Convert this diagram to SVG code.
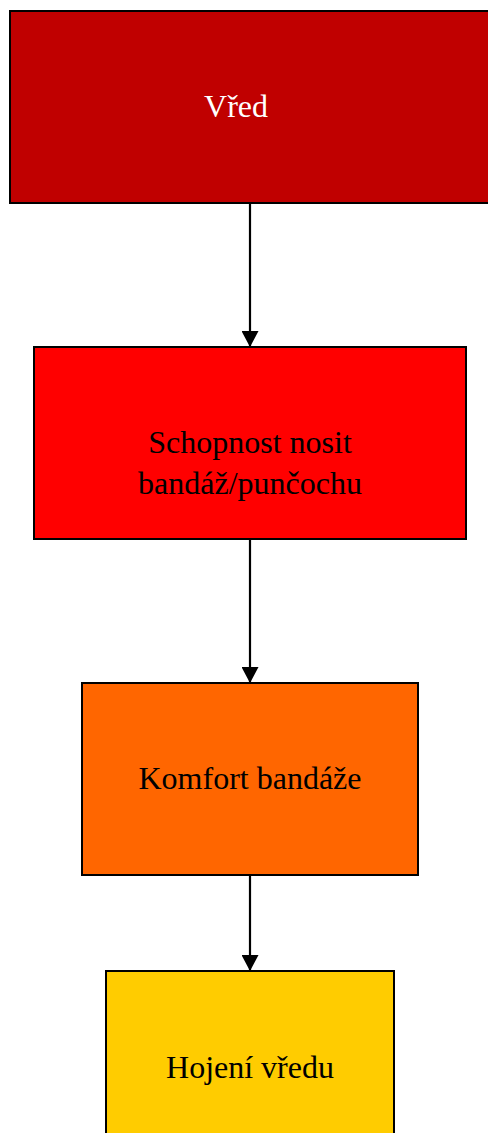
<svg xmlns="http://www.w3.org/2000/svg" width="488" height="1133" viewBox="0 0 488 1133">
  <style>
    .box { stroke: #000; stroke-width: 2; }
    .lbl { font-family: "Liberation Serif", "Times New Roman", serif; font-size: 32px; text-anchor: middle; fill: #000; }
    .conn { stroke: #000; stroke-width: 2.2; fill: none; }
  </style>
  <defs>
    <marker id="arr" viewBox="0 0 16 17" refX="16" refY="8.5" markerWidth="16" markerHeight="17" markerUnits="userSpaceOnUse" orient="auto">
      <path d="M0,0 L16,8.5 L0,17 Z" fill="#000"/>
    </marker>
  </defs>
  <rect width="488" height="1133" fill="#fff"/>
  <g id="n1">
    <rect class="box" x="10" y="11" width="482" height="192" fill="#C00000"/>
    <text class="lbl" x="236" y="117" style="fill:#fff">Vřed</text>
  </g>
  <g id="n2">
    <rect class="box" x="34" y="347" width="432" height="192" fill="#FF0000"/>
    <text class="lbl" x="250" y="453">Schopnost nosit</text>
    <text class="lbl" x="250" y="494">bandáž/punčochu</text>
  </g>
  <g id="n3">
    <rect class="box" x="82" y="683" width="336" height="192" fill="#FF6600"/>
    <text class="lbl" x="250" y="789">Komfort bandáže</text>
  </g>
  <g id="n4">
    <rect class="box" x="106" y="971" width="288" height="192" fill="#FFCC00"/>
    <text class="lbl" x="250" y="1078">Hojení vředu</text>
  </g>
  <g id="connectors">
    <line class="conn" x1="250" y1="203" x2="250" y2="347" marker-end="url(#arr)"/>
    <line class="conn" x1="250" y1="539" x2="250" y2="683" marker-end="url(#arr)"/>
    <line class="conn" x1="250" y1="875" x2="250" y2="971" marker-end="url(#arr)"/>
  </g>
</svg>
